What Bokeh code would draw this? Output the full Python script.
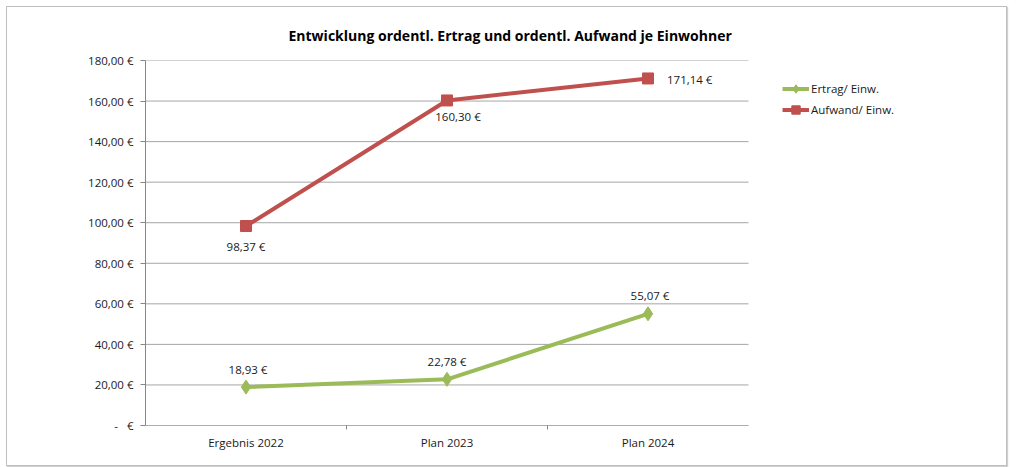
from bokeh.plotting import figure
from bokeh.models import (FixedTicker, Legend, LegendItem, ColumnDataSource, Range1d, Title)
from bokeh.embed import file_html
from bokeh.resources import INLINE
from bokeh.core.properties import value

# ---- data ----
categories = ["Ergebnis 2022", "Plan 2023", "Plan 2024"]
ertrag = [18.93, 22.78, 55.07]
aufwand = [98.37, 160.30, 171.14]
series_names = ["Ertrag/ Einw.", "Aufwand/ Einw."]
y_ticks = [0, 20, 40, 60, 80, 100, 120, 140, 160, 180]
title_text = "Entwicklung ordentl. Ertrag und ordentl. Aufwand je Einwohner"

# ---- styles / layout ----
FONT = "Open Sans"
GREEN = "#9bbb59"
RED = "#c0504d"
TXT = "#1a1a1a"
AXIS = "#868686"
GRID = "#a6a6a6"
FS = "11.5px"

W, H = 1001, 460
LEFT, RIGHT, TOP, BOTTOM = 138, 21, 53, 42
CAT_PX = 603                              # pixel width of the category area
FRAME_PX = W - LEFT - RIGHT               # full frame width (legend lives inside)
n = len(categories)
x_end = n * FRAME_PX / CAT_PX

NBSP = "\u00a0"

def euro(v):
    if v == 0:
        return "-" + NBSP * 3 + "€"
    return f"{v:.2f}".replace(".", ",") + NBSP + "€"

p = figure(width=W, height=H, output_backend="svg", toolbar_location=None,
           x_range=Range1d(0, x_end), y_range=Range1d(0, 180),
           min_border_left=LEFT, min_border_right=RIGHT,
           min_border_top=TOP, min_border_bottom=BOTTOM)
p.styles = {"border": "1px solid #bfbfbf", "margin-left": "6px", "margin-top": "6px",
            "box-shadow": "1px 1px 1px #d0d0d0"}
p.outline_line_color = None
p.background_fill_color = "white"
p.border_fill_color = "white"

xs = [i + 0.5 for i in range(n)]

# gridlines and x baseline over the category area only
p.segment(x0=[0] * len(y_ticks), x1=[n] * len(y_ticks), y0=y_ticks, y1=y_ticks,
          line_color=GRID, line_width=1)
p.segment(x0=[0], x1=[n], y0=[0], y1=[0], line_color=AXIS, line_width=1)

# axes
p.xaxis.ticker = FixedTicker(ticks=xs, minor_ticks=list(range(1, n)))
p.xaxis.major_label_overrides = {x: c for x, c in zip(xs, categories)}
p.xaxis.major_tick_out = 0
p.xaxis.major_tick_in = 0
p.xaxis.minor_tick_out = 4
p.xaxis.minor_tick_in = 0
p.xaxis.minor_tick_line_color = AXIS
p.xaxis.axis_line_color = None
p.xaxis.major_label_text_font = FONT
p.xaxis.major_label_text_font_size = FS
p.xaxis.major_label_text_color = TXT
p.xaxis.major_label_standoff = 5

p.yaxis.ticker = FixedTicker(ticks=y_ticks)
p.yaxis.major_label_overrides = {t: euro(t) for t in y_ticks}
p.yaxis.major_tick_out = 5
p.yaxis.major_tick_in = 0
p.yaxis.minor_tick_line_color = None
p.yaxis.major_tick_line_color = AXIS
p.yaxis.axis_line_color = AXIS
p.yaxis.major_label_text_font = FONT
p.yaxis.major_label_text_font_size = FS
p.yaxis.major_label_text_color = TXT
p.yaxis.major_label_standoff = 7

p.xgrid.grid_line_color = None
p.ygrid.grid_line_color = None

# series
r_gl = p.line(xs, ertrag, line_color=GREEN, line_width=4)
r_gm = p.scatter(xs, ertrag, marker="diamond", size=14, fill_color=GREEN, line_color=GREEN)
r_rl = p.line(xs, aufwand, line_color=RED, line_width=4)
r_rm = p.scatter(xs, aufwand, marker="square", size=11, fill_color=RED, line_color=RED)

# data labels (offsets in screen pixels, y downwards)
src_e = ColumnDataSource(dict(x=xs, y=ertrag, t=[euro(v) for v in ertrag],
                              dx=[2, 0, 2], dy=[-18, -18, -18],
                              al=["center", "center", "center"]))
src_a = ColumnDataSource(dict(x=xs, y=aufwand, t=[euro(v) for v in aufwand],
                              dx=[0, 11, 19], dy=[20, 16, 1],
                              al=["center", "center", "left"]))
for src in (src_e, src_a):
    p.text(x="x", y="y", text="t", source=src, x_offset="dx", y_offset="dy",
           text_align="al", text_baseline="middle",
           text_font=value(FONT), text_font_size=FS, text_color=TXT)

# legend
legend = Legend(items=[LegendItem(label=series_names[0], renderers=[r_gl, r_gm]),
                       LegendItem(label=series_names[1], renderers=[r_rl, r_rm])],
                location=(637, 305), margin=0, padding=0, spacing=0,
                glyph_width=27, glyph_height=21, label_height=21,
                label_standoff=2, border_line_color=None,
                background_fill_alpha=0,
                label_text_font=FONT, label_text_font_size=FS,
                label_text_color=TXT)
p.add_layout(legend, "center")

# title
p.title = Title(text=title_text, align="left", offset=143,
                text_font=FONT, text_font_size="14px", text_font_style="bold",
                text_color="#000000", standoff=31)

open("out.html", "w").write(file_html(p, INLINE))
